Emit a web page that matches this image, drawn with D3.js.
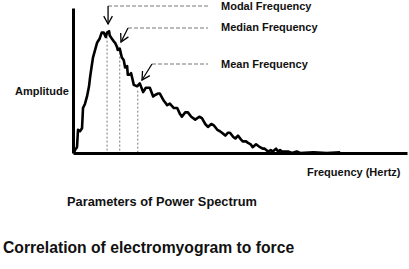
<!DOCTYPE html>
<html>
<head>
<meta charset="utf-8">
<script src="https://cdn.jsdelivr.net/npm/d3@7"></script>
<style>
  body { margin: 0; background: #fff; }
  text { font-family: "Liberation Sans", Arial, sans-serif; font-weight: bold; fill: #111; }
</style>
</head>
<body>
<div id="chart"></div>
<script>
// power spectrum (frequency in Hz, amplitude in %)
const freqs = [1.5, 3, 6, 7.5, 10.5, 13.5, 15, 18, 21, 24, 25.5, 28, 30, 33, 36, 40, 43, 46, 48, 49, 51, 54, 55, 58, 61, 63,
    66, 67, 70, 73, 76, 78, 81, 82, 85, 87, 91, 96, 100, 105, 109, 115, 120, 123, 127, 130, 136, 141, 145, 151, 156,
    160, 163, 168, 172, 177, 183, 189, 193, 198, 202, 207, 211, 216, 220, 223, 228, 232, 235, 240, 243, 247, 252,
    254, 259, 262, 266, 269, 274, 280, 284, 287, 292, 296, 299, 304, 307, 310, 313, 317, 322, 328, 335, 340, 360, 380, 400];
const amps = [0, 2, 4, 16, 15, 17, 31, 34, 39, 46, 52, 60, 66, 71, 76, 79, 83, 83, 81, 80, 83, 84, 81, 79, 77, 76,
    73, 71, 72, 66, 64, 59, 60, 54, 54, 55, 47, 46, 48, 42, 45, 45, 39, 40, 41, 41, 36, 33, 34, 31, 31,
    27, 25, 28, 28, 25, 23, 25, 24, 20, 18, 20, 19, 16, 15, 14, 12, 14, 14, 11, 10, 12, 9,
    8, 8, 7, 6, 4, 6, 4, 3, 3, 1, 2, 1, 3, 1, 2, 1, 1, 1, 0, 1, 0, 0.5, 0, 0.5];

const markerNames = ['Modal Frequency', 'Median Frequency', 'Mean Frequency'];
const markerFreqs = [51, 70, 97];
const markerAmps = [83, 72, 43];

const width = 409, height = 269;
const margin = { top: 8, right: 2, bottom: 116, left: 73 };

const svg = d3.select('#chart').append('svg')
    .attr('width', width)
    .attr('height', height);

const x = d3.scaleLinear().domain([0, 500]).range([margin.left, width - margin.right]);
const y = d3.scaleLinear().domain([0, 100]).range([height - margin.bottom, margin.top]);

// dashed verticals at the three frequencies
svg.selectAll('.drop')
    .data(markerFreqs)
    .enter()
    .append('line')
    .attr('class', 'drop')
    .attr('x1', d => x(d)).attr('x2', d => x(d))
    .attr('y1', (d, i) => y(markerAmps[i]))
    .attr('y2', y(0))
    .attr('stroke', '#777')
    .attr('stroke-width', 1)
    .attr('stroke-dasharray', '2,2');

// the spectrum
const line = d3.line()
    .x((d, i) => x(freqs[i]))
    .y(d => y(d))
    .curve(d3.curveLinear);

svg.append('path')
    .datum(amps)
    .attr('d', line)
    .attr('fill', 'none')
    .attr('stroke', '#000')
    .attr('stroke-width', 2.6)
    .attr('stroke-linejoin', 'round');

// axes, no ticks
svg.append('g')
    .attr('transform', `translate(0,${y(0)})`)
    .call(d3.axisBottom(x).ticks(0).tickSize(0).tickSizeOuter(0))
    .call(g => g.select('.domain').attr('stroke', '#000').attr('stroke-width', 3));
svg.append('g')
    .attr('transform', `translate(${x(0)},0)`)
    .call(d3.axisLeft(y).ticks(0).tickSize(0).tickSizeOuter(0))
    .call(g => g.select('.domain').attr('stroke', '#000').attr('stroke-width', 3));

// leader lines + arrows (start = end of dashed leader, tip near the curve)
const labelX = 221;
const labelBase = [10, 31, 68];
const leaderY = [6, 28, 64];
const arrowStart = [[x(markerFreqs[0]) + 1, 6], [128, 28], [152, 64]];
const arrowTip = [[x(markerFreqs[0]) + 1, 24], [121, 42], [142, 80]];

markerNames.forEach((name, i) => {
    svg.append('line')
        .attr('x1', arrowStart[i][0]).attr('x2', 208)
        .attr('y1', leaderY[i]).attr('y2', leaderY[i])
        .attr('stroke', '#666')
        .attr('stroke-width', 0.9)
        .attr('stroke-dasharray', '4,2');

    const [sx, sy] = arrowStart[i];
    const [tx, ty] = arrowTip[i];
    svg.append('line')
        .attr('x1', sx).attr('y1', sy).attr('x2', tx).attr('y2', ty)
        .attr('stroke', '#000').attr('stroke-width', 1.3);
    const ang = Math.atan2(ty - sy, tx - sx);
    const len = 9, spread = 0.5;
    const head = [
        [tx - len * Math.cos(ang - spread), ty - len * Math.sin(ang - spread)],
        [tx, ty],
        [tx - len * Math.cos(ang + spread), ty - len * Math.sin(ang + spread)]
    ];
    svg.append('path')
        .attr('d', d3.line()(head))
        .attr('fill', 'none')
        .attr('stroke', '#000')
        .attr('stroke-width', 1.3);

    svg.append('text')
        .attr('x', labelX)
        .attr('y', labelBase[i])
        .style('font-size', '11px')
        .text(name);
});

svg.append('text')
    .attr('x', 15).attr('y', 95)
    .style('font-size', '11px')
    .text('Amplitude');

svg.append('text')
    .attr('x', 307).attr('y', 176)
    .style('font-size', '11px')
    .text('Frequency (Hertz)');

svg.append('text')
    .attr('x', 67).attr('y', 206)
    .style('font-size', '12.8px')
    .text('Parameters of Power Spectrum');

svg.append('text')
    .attr('x', 3).attr('y', 252.7)
    .style('font-size', '15.7px')
    .text('Correlation of electromyogram to force');
</script>
</body>
</html>
